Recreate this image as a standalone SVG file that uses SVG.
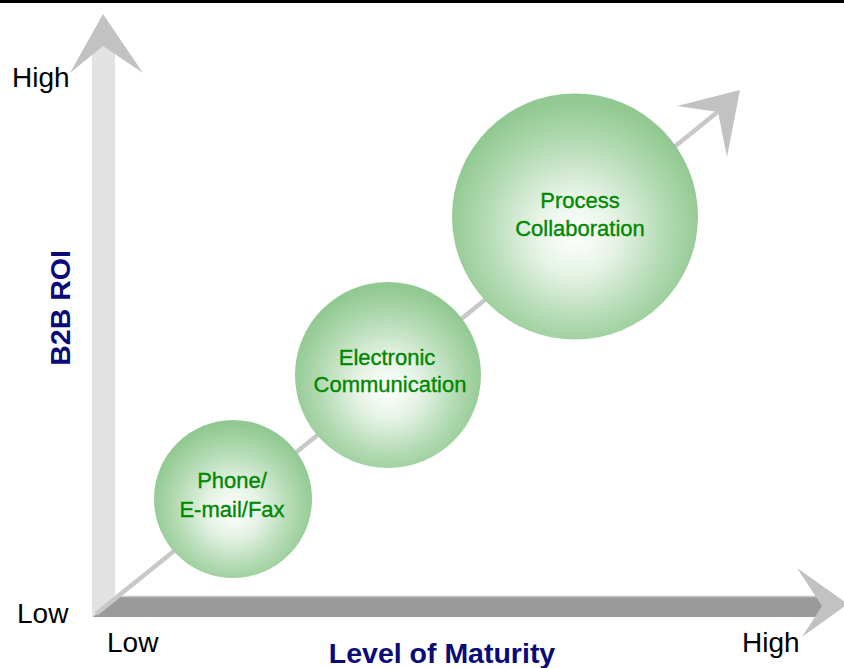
<svg xmlns="http://www.w3.org/2000/svg" width="844" height="668" viewBox="0 0 844 668">
<defs>
<radialGradient id="sphere" cx="50%" cy="55%" r="52%" fx="50%" fy="58%">
<stop offset="0" stop-color="#ffffff"/>
<stop offset="0.32" stop-color="#e6f3e6"/>
<stop offset="0.68" stop-color="#b6dcb6"/>
<stop offset="1" stop-color="#92c992"/>
</radialGradient>
<style>
.lbl{font-family:"Liberation Sans",Arial,sans-serif;font-size:28px;fill:#000}
.axis{font-family:"Liberation Sans",Arial,sans-serif;font-size:28.5px;font-weight:bold;fill:#0a0a78}
.node{font-family:"Liberation Sans",Arial,sans-serif;font-size:22px;fill:#008800;stroke:#008800;stroke-width:0.35;text-anchor:middle}
.head{fill:#c2c2c2}
</style>
</defs>
<rect x="0" y="0" width="844" height="668" fill="#ffffff"/>
<rect x="0" y="0" width="844" height="3" fill="#000"/>
<g id="axes">
<rect x="92" y="46" width="23" height="571" fill="#e2e2e2"/>
<polygon class="head" points="103,14 143,73 103,46 70,73"/>
<polygon points="93,617 118,596 822,596 822,617" fill="#9a9a9a"/>
<line x1="116" y1="596.5" x2="822" y2="596.5" stroke="#c8c8c8" stroke-width="1.5"/>
<polygon class="head" points="797,568 848,604 802,637 822,606"/>
</g>
<g id="connectors">
<line x1="96" y1="614" x2="720" y2="110" stroke="#c8c8c8" stroke-width="4.5"/>
<polygon class="head" points="677,106 740,90 727,157 718,112"/>
</g>
<g id="node-phone">
<circle cx="233" cy="499" r="79" fill="url(#sphere)"/>
<text class="node" x="232" y="488">Phone/</text>
<text class="node" x="232" y="517">E-mail/Fax</text>
</g>
<g id="node-electronic">
<circle cx="388" cy="375" r="93" fill="url(#sphere)"/>
<text class="node" x="387" y="365">Electronic</text>
<text class="node" x="390" y="392">Communication</text>
</g>
<g id="node-process">
<circle cx="575" cy="216.5" r="123" fill="url(#sphere)"/>
<text class="node" x="580" y="208">Process</text>
<text class="node" x="580" y="236">Collaboration</text>
</g>
<g id="labels">
<text class="lbl" x="12" y="87">High</text>
<text class="lbl" x="17" y="623">Low</text>
<text class="lbl" x="107" y="652">Low</text>
<text class="lbl" x="742" y="652">High</text>
<text class="axis" x="442" y="663" text-anchor="middle">Level of Maturity</text>
<text class="axis" transform="translate(70,308) rotate(-90)" text-anchor="middle">B2B ROI</text>
</g>
</svg>
